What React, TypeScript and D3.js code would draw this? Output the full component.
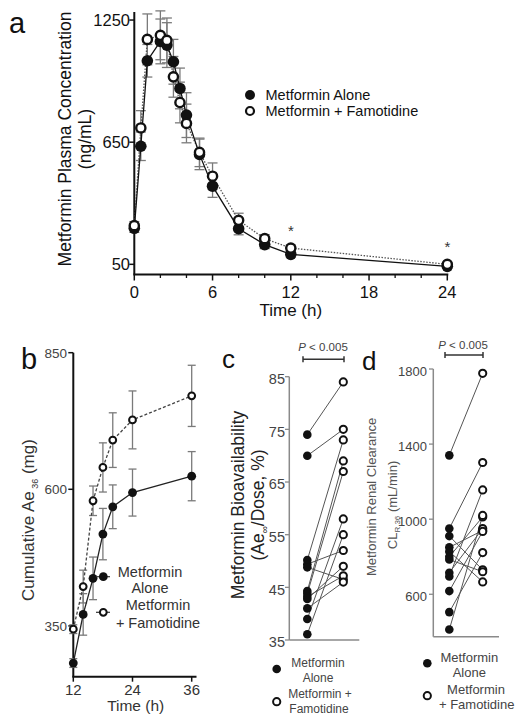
import React from "react";
import * as d3 from "d3";

// ---------- Panel a data ----------
const timesA = [0, 0.5, 1, 2, 2.5, 3, 3.5, 4, 5, 6, 8, 10, 12, 24];
const aloneA = [227, 630, 1050, 1145, 1127, 1045, 914, 783, 590, 434, 225, 147, 99, 40];
const aloneAErr = [20, 70, 80, 110, 110, 110, 100, 110, 75, 55, 30, 20, 15, 10];
const famoA = [240, 720, 1155, 1175, 1150, 971, 845, 742, 600, 483, 266, 176, 130, 50];
const famoAErr = [20, 85, 125, 120, 110, 100, 100, 95, 70, 65, 35, 20, 15, 10];
const yTicksA = [50, 650, 1250];
const xTicksA = [0, 6, 12, 18, 24];
const xMinorA = [2, 4, 8, 10, 14, 16, 20, 22];
const starTimes = [12, 24];

// ---------- Panel b data ----------
const timesB = [12, 14, 16, 18, 20, 24, 36];
const aloneB = [282, 371, 437, 518, 568, 594, 624];
const aloneBErr = [8, 38, 39, 47, 40, 43, 45];
const famoB = [344, 422, 579, 640, 690, 727, 771];
const famoBErr = [8, 30, 27, 45, 50, 53, 56];
const yTicksB = [350, 600, 850];
const xTicksB = [12, 24, 36];

// ---------- Panel c data ----------
const bioAlone = [74, 70, 50.2, 49.4, 48.8, 44.3, 43.8, 43.2, 42.8, 41, 39, 36.1];
const bioFamo = [84, 75, 73, 52, 46.5, 69, 67, 47.2, 49, 46, 58, 55];
const yTicksC = [35, 45, 55, 65, 75, 85];

// ---------- Panel d data ----------
const clAlone = [1340, 950, 910, 850, 828, 800, 785, 715, 695, 617, 505, 412];
const clFamo = [1777, 1302, 730, 940, 666, 1012, 720, 950, 1156, 935, 822, 1020];
const yTicksD = [600, 1000, 1400, 1800];

const FONT = "'Liberation Sans', Arial, Helvetica, sans-serif";

function ErrBar({ x, y1, y2, cap, color }: { x: number; y1: number; y2: number; cap: number; color: string }) {
  return (
    <g stroke={color} strokeWidth={1.3} fill="none">
      <line x1={x} x2={x} y1={y1} y2={y2} />
      <line x1={x - cap} x2={x + cap} y1={y1} y2={y1} />
      <line x1={x - cap} x2={x + cap} y1={y2} y2={y2} />
    </g>
  );
}

export default function App() {
  // ----- panel a scales -----
  const xA = d3.scaleLinear().domain([0, 24]).range([134.3, 447.3]);
  const yA = d3.scaleLinear().domain([0, 1290]).range([274.5, 11.9]);
  const lineA = d3
    .line<number>()
    .x((_, i) => xA(timesA[i]))
    .y((d) => yA(d));

  // ----- panel b scales -----
  const xB = d3.scaleLinear().domain([12, 36]).range([73.3, 191.7]);
  const yB = d3.scaleLinear().domain([257, 850]).range([676.7, 352.7]);
  const lineB = d3
    .line<number>()
    .x((_, i) => xB(timesB[i]))
    .y((d) => yB(d));

  // ----- panel c scales -----
  const xC = d3.scalePoint<string>().domain(["alone", "famo"]).range([307.3, 343.3]);
  const yC = d3.scaleLinear().domain([35, 85]).range([640, 376.7]);

  // ----- panel d scales -----
  const xD = d3.scalePoint<string>().domain(["alone", "famo"]).range([449.3, 482.7]);
  const yD = d3.scaleLinear().domain([374, 1800]).range([636.7, 369]);

  const black = "#111";
  const grayAxis = "#8a8a8a";
  const errGray = "#7a7a7a";

  return (
    <svg
      width={523}
      height={726}
      style={{ position: "absolute", left: 0, top: 0, background: "#fff" }}
      fontFamily={FONT}
    >
      <rect x={0} y={0} width={523} height={726} fill="#fff" />

      {/* ================= Panel a ================= */}
      <text x={9} y={33} fontSize={29} fill={black}>a</text>
      <line x1={xA(0)} x2={xA(0)} y1={yA(1290)} y2={yA(0)} stroke={black} strokeWidth={2} />
      <line x1={xA(0) - 1} x2={xA(24) + 1} y1={yA(0)} y2={yA(0)} stroke={black} strokeWidth={2} />
      {yTicksA.map((t) => (
        <g key={"ya" + t}>
          <line x1={xA(0) - 5} x2={xA(0)} y1={yA(t)} y2={yA(t)} stroke={black} strokeWidth={1.5} />
          <text x={130} y={yA(t)} dy="0.36em" textAnchor="end" fontSize={16.5} fill={black}>{t}</text>
        </g>
      ))}
      {xTicksA.map((t) => (
        <g key={"xa" + t}>
          <line x1={xA(t)} x2={xA(t)} y1={yA(0)} y2={yA(0) + 6} stroke={black} strokeWidth={1.5} />
          <text x={xA(t)} y={298} textAnchor="middle" fontSize={16.5} fill={black}>{t}</text>
        </g>
      ))}
      {xMinorA.map((t) => (
        <line key={"xm" + t} x1={xA(t)} x2={xA(t)} y1={yA(0)} y2={yA(0) + 3.5} stroke={black} strokeWidth={1.3} />
      ))}
      <text x={xA(12)} y={316} textAnchor="middle" fontSize={17} fill={black}>Time (h)</text>
      <text transform={`translate(71,139) rotate(-90)`} textAnchor="middle" fontSize={17.5} fill={black}>
        Metformin Plasma Concentration
      </text>
      <text transform={`translate(91,139) rotate(-90)`} textAnchor="middle" fontSize={17.5} fill={black}>
        (ng/mL)
      </text>
      {timesA.map((t, i) => (
        <g key={"eba" + i}>
          <ErrBar x={xA(t)} y1={yA(famoA[i] + famoAErr[i])} y2={yA(famoA[i] - famoAErr[i])} cap={5} color={errGray} />
          <ErrBar x={xA(t)} y1={yA(aloneA[i] + aloneAErr[i])} y2={yA(aloneA[i] - aloneAErr[i])} cap={5} color={errGray} />
        </g>
      ))}
      <path d={lineA(famoA) || ""} fill="none" stroke="#555" strokeWidth={1.3} strokeDasharray="1.5,1.5" />
      <path d={lineA(aloneA) || ""} fill="none" stroke={black} strokeWidth={1.3} />
      {timesA.map((t, i) => (
        <circle key={"fa" + i} cx={xA(t)} cy={yA(aloneA[i])} r={5.8} fill={black} />
      ))}
      {timesA.map((t, i) => (
        <circle key={"ha" + i} cx={xA(t)} cy={yA(famoA[i])} r={4.6} fill="#fff" stroke={black} strokeWidth={2.4} />
      ))}
      {starTimes.map((t) => {
        const i = timesA.indexOf(t);
        const v = Math.max(aloneA[i], famoA[i]);
        return (
          <text key={"st" + t} x={xA(t)} y={yA(v) - 12} textAnchor="middle" fontSize={15} fill="#333">*</text>
        );
      })}
      {/* legend a */}
      <circle cx={250} cy={95} r={5} fill={black} />
      <circle cx={250} cy={111} r={4} fill="#fff" stroke={black} strokeWidth={2.2} />
      <text x={265.5} y={95} dy="0.36em" fontSize={14.5} fill={black}>Metformin Alone</text>
      <text x={265.5} y={111} dy="0.36em" fontSize={14.5} fill={black}>Metformin + Famotidine</text>

      {/* ================= Panel b ================= */}
      <text x={21} y={369} fontSize={29} fill={black}>b</text>
      <line x1={xB(12)} x2={xB(12)} y1={yB(850)} y2={yB(257)} stroke={black} strokeWidth={2} />
      <line x1={xB(12) - 1} x2={196.5} y1={yB(257)} y2={yB(257)} stroke={black} strokeWidth={2} />
      {yTicksB.map((t) => (
        <g key={"yb" + t}>
          <line x1={xB(12) - 5} x2={xB(12)} y1={yB(t)} y2={yB(t)} stroke={black} strokeWidth={1.5} />
          <text x={67} y={yB(t)} dy="0.36em" textAnchor="end" fontSize={13.5} fill="#444">{t}</text>
        </g>
      ))}
      {xTicksB.map((t) => (
        <g key={"xb" + t}>
          <line x1={xB(t)} x2={xB(t)} y1={yB(257)} y2={yB(257) + 5} stroke={black} strokeWidth={1.5} />
          <text x={xB(t)} y={695} textAnchor="middle" fontSize={15} fill="#333">{t}</text>
        </g>
      ))}
      <text x={135.7} y={711} textAnchor="middle" fontSize={15.5} fill="#333">Time (h)</text>
      <text transform={`translate(34,520) rotate(-90)`} textAnchor="middle" fontSize={17} fill="#333">
        Cumulative Ae
        <tspan fontSize={9} dy={4}> 36</tspan>
        <tspan dy={-4}> (mg)</tspan>
      </text>
      {timesB.map((t, i) => (
        <g key={"ebb" + i}>
          <ErrBar x={xB(t)} y1={yB(famoB[i] + famoBErr[i])} y2={yB(famoB[i] - famoBErr[i])} cap={4} color={errGray} />
          <ErrBar x={xB(t)} y1={yB(aloneB[i] + aloneBErr[i])} y2={yB(aloneB[i] - aloneBErr[i])} cap={4} color={errGray} />
        </g>
      ))}
      <path d={lineB(famoB) || ""} fill="none" stroke="#444" strokeWidth={1.3} strokeDasharray="3,2" />
      <path d={lineB(aloneB) || ""} fill="none" stroke="#222" strokeWidth={1.3} />
      {timesB.map((t, i) => (
        <circle key={"fb" + i} cx={xB(t)} cy={yB(aloneB[i])} r={4.4} fill={black} />
      ))}
      {timesB.map((t, i) => (
        <circle key={"hb" + i} cx={xB(t)} cy={yB(famoB[i])} r={3.4} fill="#fff" stroke={black} strokeWidth={2} />
      ))}
      {/* legend b */}
      <line x1={96} x2={110} y1={576.7} y2={576.7} stroke="#333" strokeWidth={1.2} />
      <circle cx={103.3} cy={576.7} r={4.4} fill={black} />
      <line x1={96} x2={110} y1={612.3} y2={612.3} stroke="#333" strokeWidth={1.2} />
      <circle cx={103.3} cy={612.3} r={3.4} fill="#fff" stroke={black} strokeWidth={2} />
      <text x={150} y={577} textAnchor="middle" fontSize={14.5} fill="#333">Metformin</text>
      <text x={150} y={593} textAnchor="middle" fontSize={14.5} fill="#333">Alone</text>
      <text x={158} y={610} textAnchor="middle" fontSize={14.5} fill="#333">Metformin</text>
      <text x={158} y={628} textAnchor="middle" fontSize={14.5} fill="#333">+ Famotidine</text>

      {/* ================= Panel c ================= */}
      <text x={222} y={368} fontSize={26} fill={black}>c</text>
      <text x={323} y={351} textAnchor="middle" fontSize={11.5} fill="#444">
        <tspan fontStyle="italic">P</tspan> &lt; 0.005
      </text>
      <g stroke="#333" strokeWidth={1.5}>
        <line x1={303} x2={344} y1={359.3} y2={359.3} />
        <line x1={303} x2={303} y1={356.3} y2={362.3} />
        <line x1={344} x2={344} y1={356.3} y2={362.3} />
      </g>
      <line x1={289.3} x2={289.3} y1={yC(85)} y2={yC(35)} stroke={grayAxis} strokeWidth={1.5} />
      <line x1={289.3} x2={359.3} y1={yC(35)} y2={yC(35)} stroke={grayAxis} strokeWidth={1.5} />
      {yTicksC.map((t) => (
        <g key={"yc" + t}>
          <line x1={285} x2={289.3} y1={yC(t)} y2={yC(t)} stroke={grayAxis} strokeWidth={1.3} />
          <text x={285} y={yC(t) + 2} dy="0.36em" textAnchor="end" fontSize={14.5} fill="#444">{t}</text>
        </g>
      ))}
      <text transform={`translate(243.5,505) rotate(-90)`} textAnchor="middle" fontSize={17.5} fill="#222">
        Metformin Bioavailability
      </text>
      <text transform={`translate(264,505) rotate(-90)`} textAnchor="middle" fontSize={17.5} fill="#222">
        (Ae
        <tspan fontSize={10} dy={4}>∞</tspan>
        <tspan dy={-4}>/Dose, %)</tspan>
      </text>
      {bioAlone.map((v, i) => (
        <line
          key={"lc" + i}
          x1={xC("alone")}
          x2={xC("famo")}
          y1={yC(v)}
          y2={yC(bioFamo[i])}
          stroke="#555"
          strokeWidth={1}
        />
      ))}
      {bioAlone.map((v, i) => (
        <circle key={"fc" + i} cx={xC("alone")} cy={yC(v)} r={4.3} fill={black} />
      ))}
      {bioFamo.map((v, i) => (
        <circle key={"hc" + i} cx={xC("famo")} cy={yC(v)} r={3.6} fill="#fff" stroke={black} strokeWidth={2} />
      ))}
      {/* legend c */}
      <circle cx={276.7} cy={669} r={4.3} fill={black} />
      <circle cx={276.7} cy={701.7} r={3.6} fill="#fff" stroke={black} strokeWidth={2} />
      <text x={318} y={667} textAnchor="middle" fontSize={12} fill="#444">Metformin</text>
      <text x={318} y={682} textAnchor="middle" fontSize={12} fill="#444">Alone</text>
      <text x={320} y={698} textAnchor="middle" fontSize={12} fill="#444">Metformin +</text>
      <text x={319} y={713} textAnchor="middle" fontSize={12} fill="#444">Famotidine</text>

      {/* ================= Panel d ================= */}
      <text x={362} y={370} fontSize={26} fill={black}>d</text>
      <text x={463} y={348.5} textAnchor="middle" fontSize={11.5} fill="#444">
        <tspan fontStyle="italic">P</tspan> &lt; 0.005
      </text>
      <g stroke="#333" strokeWidth={1.5}>
        <line x1={445} x2={483} y1={355} y2={355} />
        <line x1={445} x2={445} y1={352} y2={358} />
        <line x1={483} x2={483} y1={352} y2={358} />
      </g>
      <line x1={433.3} x2={433.3} y1={yD(1800)} y2={yD(374)} stroke={grayAxis} strokeWidth={1.5} />
      <line x1={433.3} x2={499} y1={yD(374)} y2={yD(374)} stroke={grayAxis} strokeWidth={1.5} />
      {yTicksD.map((t) => (
        <g key={"yd" + t}>
          <line x1={429} x2={433.3} y1={yD(t)} y2={yD(t)} stroke={grayAxis} strokeWidth={1.3} />
          <text x={427} y={yD(t) + 2} dy="0.36em" textAnchor="end" fontSize={13} fill="#444">{t}</text>
        </g>
      ))}
      <text transform={`translate(375.5,497) rotate(-90)`} textAnchor="middle" fontSize={13} fill="#555">
        Metformin Renal Clearance
      </text>
      <text transform={`translate(396.5,505) rotate(-90)`} textAnchor="middle" fontSize={13} fill="#555">
        CL
        <tspan fontSize={8} dy={3}>R,36</tspan>
        <tspan dy={-3}> (mL/min)</tspan>
      </text>
      {clAlone.map((v, i) => (
        <line
          key={"ld" + i}
          x1={xD("alone")}
          x2={xD("famo")}
          y1={yD(v)}
          y2={yD(clFamo[i])}
          stroke="#555"
          strokeWidth={1}
        />
      ))}
      {clAlone.map((v, i) => (
        <circle key={"fd" + i} cx={xD("alone")} cy={yD(v)} r={4.3} fill={black} />
      ))}
      {clFamo.map((v, i) => (
        <circle key={"hd" + i} cx={xD("famo")} cy={yD(v)} r={3.6} fill="#fff" stroke={black} strokeWidth={2} />
      ))}
      {/* legend d */}
      <circle cx={427.3} cy={663.3} r={4.3} fill={black} />
      <circle cx={427.3} cy={695.7} r={3.6} fill="#fff" stroke={black} strokeWidth={2} />
      <text x={469.3} y={662} textAnchor="middle" fontSize={13} fill="#444">Metformin</text>
      <text x={469.3} y={677} textAnchor="middle" fontSize={13} fill="#444">Alone</text>
      <text x={476} y={694} textAnchor="middle" fontSize={13} fill="#444">Metformin</text>
      <text x={476.7} y={709} textAnchor="middle" fontSize={13} fill="#444">+ Famotidine</text>
    </svg>
  );
}
